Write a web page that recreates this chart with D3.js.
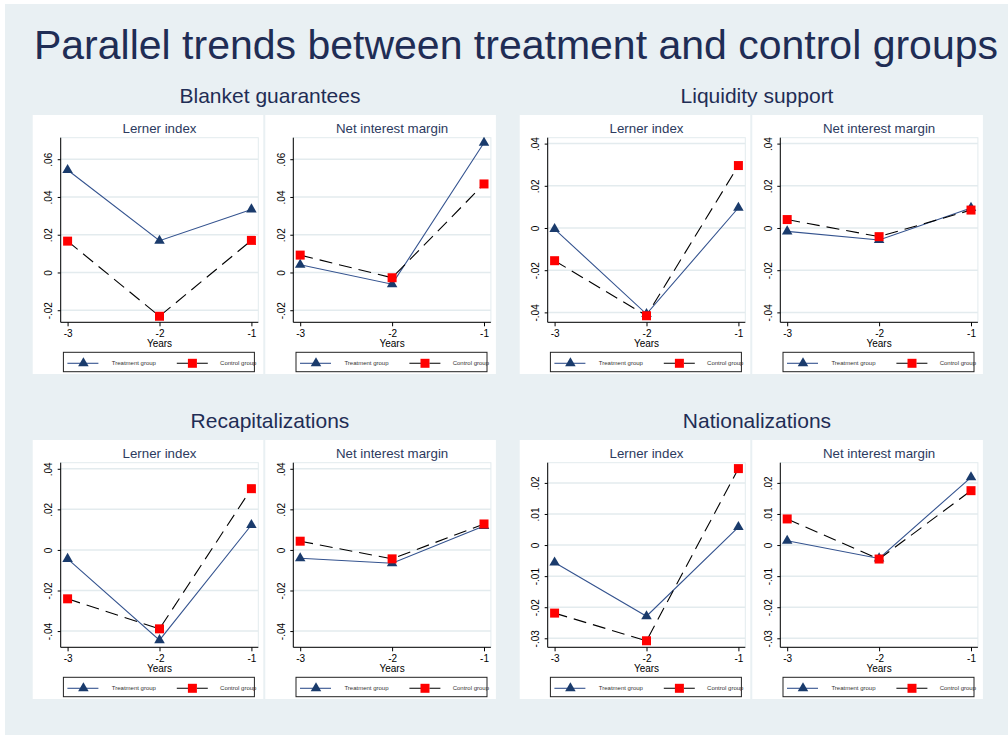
<!DOCTYPE html>
<html>
<head>
<meta charset="UTF-8">
<title>Parallel trends</title>
<script src="https://d3js.org/d3.v7.min.js"></script>
<style>
  body { margin: 0; background: #fff; }
  svg { display: block; font-family: "Liberation Sans", Arial, sans-serif; }
</style>
</head>
<body>
<svg id="chart" width="1008" height="735"></svg>
<script>
// ---- data ----
const groups = ["Blanket guarantees", "Liquidity support", "Recapitalizations", "Nationalizations"];
const measures = ["Lerner index", "Net interest margin"];
const years = [-3, -2, -1];
const seriesNames = ["Treatment group", "Control group"];

// one row per group, values for years -3, -2, -1
const treatLerner = [
  [0.0543, 0.0168, 0.0334],
  [-0.0005, -0.0408, 0.0096],
  [-0.0044, -0.0445, 0.0123],
  [-0.0056, -0.0229, 0.0058]
];
const ctrlLerner = [
  [0.0166, -0.0232, 0.0170],
  [-0.0155, -0.0416, 0.0296],
  [-0.0241, -0.0389, 0.0302],
  [-0.0219, -0.0308, 0.0246]
];
const treatNim = [
  [0.0041, -0.0062, 0.0687],
  [-0.0016, -0.0057, 0.0095],
  [-0.0041, -0.0066, 0.0118],
  [0.0014, -0.0043, 0.0218]
];
const ctrlNim = [
  [0.0092, -0.0028, 0.0469],
  [0.0040, -0.0041, 0.0085],
  [0.0043, -0.0044, 0.0128],
  [0.0084, -0.0045, 0.0175]
];

// y axis ticks and ranges per group (same for both measures in a group)
const yTicks = [
  [-0.02, 0, 0.02, 0.04, 0.06],
  [-0.04, -0.02, 0, 0.02, 0.04],
  [-0.04, -0.02, 0, 0.02, 0.04],
  [-0.03, -0.02, -0.01, 0, 0.01, 0.02]
];
const yRange = [
  [-0.0264, 0.0714],
  [-0.0447, 0.0428],
  [-0.048, 0.043],
  [-0.0329, 0.0265]
];

// ---- layout ----
const W = 1008, H = 735;
const svg = d3.select("#chart");
const navy = "#1f2d55";

svg.append("rect").attr("x", 5).attr("y", 4).attr("width", W - 5).attr("height", H - 4)
  .attr("fill", "#e9f0f3");

svg.append("text")
  .attr("x", 516).attr("y", 59)
  .attr("text-anchor", "middle")
  .attr("font-size", 41)
  .attr("fill", navy)
  .text("Parallel trends between treatment and control groups");

const groupX = [0, 487];      // horizontal shift of the left / right group
const rowY = [0, 325];        // vertical shift of top / bottom row
const subDx = 232.6;          // shift between the two inner graphs
const plotW = 197.6;

// Stata-like tick label: ".02", "-.02", "0"
const fmt = v => {
  const s = d3.format(".2f")(Math.abs(v)).replace(/^0/, "");
  if (Math.abs(v) < 1e-9) return "0";
  return (v < 0 ? "-" : "") + s;
};

const tri = d3.symbol(d3.symbolTriangle, 48);
const sq = d3.symbol(d3.symbolSquare, 81);

groups.forEach((g, gi) => {
  const ox = groupX[gi % 2];
  const oy = rowY[Math.floor(gi / 2)];

  // group title
  svg.append("text")
    .attr("x", 270 + ox).attr("y", 103 + oy)
    .attr("text-anchor", "middle")
    .attr("font-size", 21)
    .attr("fill", navy)
    .text(g);

  measures.forEach((m, mi) => {
    const left = 60.7 + ox + mi * subDx;
    const top = 137.7 + oy, bottom = 322.3 + oy;
    const tVals = mi === 0 ? treatLerner[gi] : treatNim[gi];
    const cVals = mi === 0 ? ctrlLerner[gi] : ctrlNim[gi];

    const x = d3.scaleLinear().domain([-3.075, -0.925]).range([left, left + plotW]);
    const y = d3.scaleLinear().domain(yRange[gi]).range([bottom, top]);

    const p = svg.append("g");

    // white graph region
    p.append("rect")
      .attr("x", left - 28).attr("y", 115 + oy)
      .attr("width", plotW + 33).attr("height", 259)
      .attr("fill", "#fff");

    // grid lines
    p.selectAll(".grid").data(yTicks[gi]).join("line")
      .attr("x1", left).attr("x2", left + plotW)
      .attr("y1", d => y(d)).attr("y2", d => y(d))
      .attr("stroke", "#e3ebee").attr("stroke-width", 1.5);

    // plot region frame
    p.append("rect")
      .attr("x", left).attr("y", top).attr("width", plotW).attr("height", bottom - top)
      .attr("fill", "none").attr("stroke", "#e3ebee").attr("stroke-width", 1);

    // subplot title
    p.append("text")
      .attr("x", left + plotW / 2).attr("y", 133 + oy)
      .attr("text-anchor", "middle")
      .attr("font-size", 13.3)
      .attr("fill", "#2c3a5e")
      .text(m);

    // series lines
    const line = d3.line().x((d, i) => x(years[i])).y(d => y(d));
    p.append("path").datum(tVals).attr("d", line)
      .attr("fill", "none").attr("stroke", "#34538f").attr("stroke-width", 1.1);
    p.append("path").datum(cVals).attr("d", line)
      .attr("fill", "none").attr("stroke", "#000").attr("stroke-width", 1.1)
      .attr("stroke-dasharray", "13,7");

    // markers
    p.selectAll(".tri").data(tVals).join("path")
      .attr("d", tri)
      .attr("transform", (d, i) => `translate(${x(years[i])},${y(d)})`)
      .attr("fill", "#1a3b6c");
    p.selectAll(".sq").data(cVals).join("path")
      .attr("d", sq)
      .attr("transform", (d, i) => `translate(${x(years[i])},${y(d)})`)
      .attr("fill", "#ff0000");

    // y axis
    const ya = p.append("g").attr("transform", `translate(${left},0)`)
      .call(d3.axisLeft(y).tickValues(yTicks[gi]).tickSize(3).tickFormat(fmt));
    ya.select(".domain").attr("d", `M0,${top}V${bottom}`).attr("stroke", "#000");
    ya.selectAll(".tick line").attr("stroke", "#000");
    ya.selectAll(".tick text")
      .attr("x", 0).attr("y", -8.4).attr("dy", null)
      .attr("transform", "rotate(-90)")
      .attr("text-anchor", "middle")
      .attr("font-size", 10)
      .attr("font-family", null)
      .attr("fill", "#000");

    // x axis
    const xa = p.append("g").attr("transform", `translate(0,${bottom})`)
      .call(d3.axisBottom(x).tickValues(years).tickSize(4).tickFormat(d => String(d)));
    xa.select(".domain").attr("d", `M${left},0H${left + plotW}`).attr("stroke", "#000");
    xa.selectAll(".tick line").attr("stroke", "#000");
    xa.selectAll(".tick text")
      .attr("y", 15.2).attr("dy", null)
      .attr("font-size", 10)
      .attr("font-family", null)
      .attr("fill", "#000");

    p.append("text")
      .attr("x", left + plotW / 2).attr("y", 347.3 + oy)
      .attr("text-anchor", "middle")
      .attr("font-size", 10)
      .text("Years");

    // legend
    const lx = left + 2.7, ly = 352.3 + oy, lc = ly + 11;
    const lg = p.append("g");
    lg.append("rect")
      .attr("x", lx).attr("y", ly).attr("width", 191).attr("height", 19.4)
      .attr("fill", "#fff").attr("stroke", "#222").attr("stroke-width", 1);
    lg.append("line")
      .attr("x1", lx + 4).attr("x2", lx + 35).attr("y1", lc).attr("y2", lc)
      .attr("stroke", "#34538f").attr("stroke-width", 1.1);
    lg.append("path").attr("d", tri).attr("transform", `translate(${lx + 20},${lc})`)
      .attr("fill", "#1a3b6c");
    lg.append("text").attr("x", lx + 48.4).attr("y", lc + 2).attr("font-size", 6)
      .attr("fill", "#333").text(seriesNames[0]);
    lg.append("line")
      .attr("x1", lx + 113.4).attr("x2", lx + 144.4).attr("y1", lc).attr("y2", lc)
      .attr("stroke", "#000").attr("stroke-width", 1.1)
      .attr("stroke-dasharray", "13,7");
    lg.append("path").attr("d", sq).attr("transform", `translate(${lx + 129},${lc})`)
      .attr("fill", "#ff0000");
    lg.append("text").attr("x", lx + 156.7).attr("y", lc + 2).attr("font-size", 6)
      .attr("fill", "#333").text(seriesNames[1]);
  });
});
</script>
</body>
</html>
